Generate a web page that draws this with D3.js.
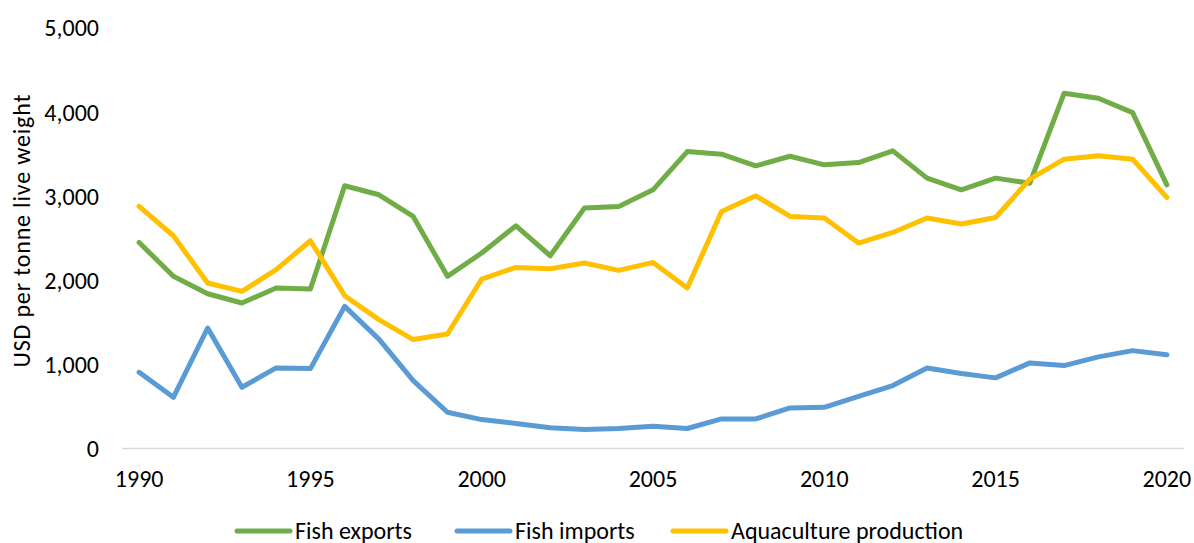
<!DOCTYPE html>
<html>
<head>
<meta charset="utf-8">
<script src="https://cdn.jsdelivr.net/npm/d3@7"></script>
<style>
body{margin:0;background:#fff;}
svg{display:block;font-family:Carlito,Lato,"Liberation Sans",sans-serif;}
</style>
</head>
<body>
<svg id="chart" width="1194" height="543"></svg>
<script>
var years = d3.range(1990, 2021);
var fishExports = [2450,2047,1840,1730,1908,1897,3124,3017,2759,2047,2324,2648,2292,2859,2878,3076,3531,3499,3361,3475,3373,3400,3539,3215,3076,3215,3155,4224,4165,3994,3135];
var fishImports = [906,609,1433,728,958,950,1690,1300,808,431,344,297,246,226,238,265,238,352,352,483,490,621,748,958,891,840,1018,986,1089,1164,1116];
var aquaculture = [2878,2530,1968,1868,2126,2470,1817,1532,1295,1362,2015,2153,2138,2205,2118,2213,1908,2818,3005,2759,2740,2443,2569,2740,2669,2747,3203,3440,3480,3440,2985];
var yTicks = [0,1000,2000,3000,4000,5000];
var xTickYears = [1990,1995,2000,2005,2010,2015,2020];
var seriesNames = ["Fish exports","Fish imports","Aquaculture production"];
var seriesColors = ["#70AD47","#5B9BD5","#FFC000"];

var svg = d3.select("#chart");
var plotL = 122, plotR = 1184, plotT = 28, plotB = 448.5;
var fs = "24px";

var x = d3.scalePoint().domain(years).range([plotL, plotR]).padding(0.5);
var y = d3.scaleLinear().domain([0, 5000]).range([plotB, plotT]);

// y tick labels (no axis line, like the original)
svg.append("g").selectAll("text")
  .data(yTicks).enter().append("text")
  .attr("x", 99).attr("y", function(d){ return y(d); })
  .attr("dy", "0.35em")
  .attr("text-anchor", "end")
  .style("font-size", fs).style("fill", "#000")
  .text(function(d){ return d3.format(",")(d); });

// x axis line
svg.append("line")
  .attr("x1", plotL).attr("x2", plotR)
  .attr("y1", plotB).attr("y2", plotB)
  .style("stroke", "#D9D9D9").style("stroke-width", 1.5);

svg.append("g").selectAll("text")
  .data(xTickYears).enter().append("text")
  .attr("x", function(d){ return x(d); }).attr("y", 479)
  .attr("dy", "0.35em")
  .attr("text-anchor", "middle")
  .style("font-size", fs).style("fill", "#000")
  .text(function(d){ return d; });

// axis title
svg.append("text")
  .attr("transform", "translate(22,231) rotate(-90)")
  .attr("text-anchor", "middle")
  .attr("dy", "0.35em")
  .attr("textLength", 273)
  .style("font-size", fs).style("fill", "#000")
  .text("USD per tonne live weight");

var line = d3.line()
  .x(function(d, i){ return x(years[i]); })
  .y(function(d){ return y(d); });

[fishExports, fishImports, aquaculture].forEach(function(s, k){
  svg.append("path")
    .datum(s)
    .attr("d", line)
    .style("fill", "none")
    .style("stroke", seriesColors[k])
    .style("stroke-width", 5)
    .style("stroke-linejoin", "round")
    .style("stroke-linecap", "round");
});

// legend
var legendX = [237, 457, 673];
var lg = svg.append("g").selectAll("g")
  .data(seriesNames).enter().append("g")
  .attr("transform", function(d, i){ return "translate(" + legendX[i] + ",531)"; });
lg.append("line")
  .attr("x1", 0).attr("x2", 53).attr("y1", 0).attr("y2", 0)
  .style("stroke", function(d, i){ return seriesColors[i]; })
  .style("stroke-width", 5).style("stroke-linecap", "round");
lg.append("text")
  .attr("x", 58).attr("dy", "0.35em")
  .style("font-size", fs).style("fill", "#000")
  .text(function(d){ return d; });
</script>
</body>
</html>
